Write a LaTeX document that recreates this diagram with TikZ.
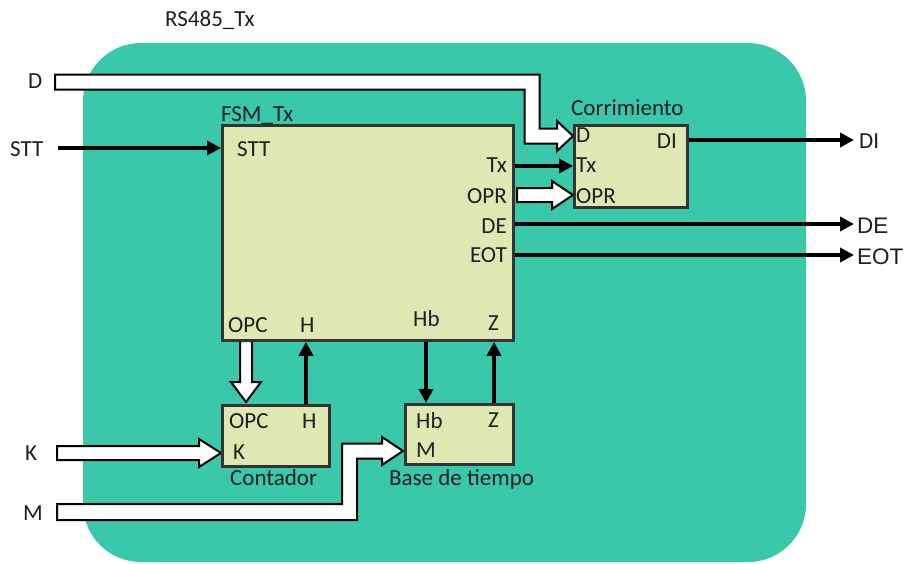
\documentclass[tikz,border=0pt]{standalone}
\usepackage{fontspec}
\setmainfont{Carlito}
\newfontfamily\arialfont{Liberation Sans}
\usetikzlibrary{arrows.meta}
\definecolor{tealbg}{HTML}{3AC8AA}
\definecolor{boxc}{HTML}{DFE8B3}
\definecolor{edgec}{HTML}{333333}
\begin{document}
\begin{tikzpicture}[x=1pt,y=-1pt,
  lbl/.style={inner sep=0pt, anchor=base west, font=\fontsize{23}{27}\selectfont, text=black!88},
  rlbl/.style={lbl, anchor=base east},
  biglbl/.style={lbl, font=\arialfont\fontsize{22.5}{26}\selectfont},
  blockbox/.style={draw=edgec, line width=2.8pt, fill=boxc, anchor=north west, inner sep=0pt},
  sig/.style={line width=3.4pt, -{Triangle[length=14pt,width=14pt]}},
  hollow/.style={fill=white, draw=black, line width=2pt, line join=miter}]
\useasboundingbox (0,0) rectangle (909,563);
% background
\fill[tealbg, rounded corners=58pt] (83,43) rectangle (806,562);

% hollow arrows
\draw[hollow] (55,74.5) -- (539.5,74.5) -- (539.5,128.5) -- (557,128.5) -- (557,121) -- (573,136)
  -- (557,151) -- (557,143.5) -- (524.5,143.5) -- (524.5,89.5) -- (55,89.5) -- cycle;
\draw[hollow] (517,188) -- (552,188) -- (552,181) -- (573,195) -- (552,209) -- (552,202) -- (517,202) -- cycle;
\draw[hollow] (240,341) -- (240,382) -- (231,382) -- (246,402) -- (261,382) -- (252,382) -- (252,341) -- cycle;
\draw[hollow] (57,446) -- (199,446) -- (199,439) -- (221,453) -- (199,467) -- (199,460) -- (57,460) -- cycle;
\draw[hollow] (57,504) -- (342,504) -- (342,443.5) -- (382,443.5) -- (382,437) -- (403,451) -- (382,465)
  -- (382,458.5) -- (357,458.5) -- (357,520) -- (57,520) -- cycle;

% blocks
\node[blockbox, minimum width=291pt, minimum height=215pt] (fsm) at (221,124) {};
\node[blockbox, minimum width=113pt, minimum height=82pt] (cor) at (573,124) {};
\node[blockbox, minimum width=107pt, minimum height=61pt] (cnt) at (221,404) {};
\node[blockbox, minimum width=108pt, minimum height=60pt] (bt) at (404,403) {};

% port coordinates
\coordinate (ystt) at (0,148);
\coordinate (ytx) at (0,166);
\coordinate (ydi) at (0,140);
\coordinate (yde) at (0,224);
\coordinate (yeot) at (0,255);
\coordinate (xh) at (306,0);
\coordinate (xhb) at (426,0);
\coordinate (xz) at (494,0);
\coordinate (sttin) at (58,148);
\coordinate (diout) at (854,140);
\coordinate (deout) at (854,224);
\coordinate (eotout) at (854,255);

% signal arrows
\draw[sig] (sttin) -- (fsm.west |- ystt);
\draw[sig] (fsm.east |- ytx) -- (cor.west |- ytx);
\draw[sig] (cor.east |- ydi) -- (diout);
\draw[sig] (fsm.east |- yde) -- (deout);
\draw[sig] (fsm.east |- yeot) -- (eotout);
\draw[sig] (cnt.north -| xh) -- (fsm.south -| xh);
\draw[sig] (fsm.south -| xhb) -- (bt.north -| xhb);
\draw[sig] (bt.north -| xz) -- (fsm.south -| xz);

% titles
\node[lbl] (title) at (165,26) {RS485\_Tx};
\node[lbl] (tfsm) at (221,121) {FSM\_Tx};
\node[lbl] (tcor) at (571,115) {Corrimiento};
\node[lbl] (tcnt) at (230,485) {Contador};
\node[lbl] (tbt) at (389,485) {Base de tiempo};

% external labels
\node[lbl] (lD) at (28,88) {D};
\node[lbl] (lSTT) at (10,156) {STT};
\node[lbl] (lK) at (25,460) {K};
\node[lbl] (lM) at (23,520) {M};
\node[lbl] (lDI) at (859,148) {DI};
\node[biglbl] (lDE) at (857,233) {DE};
\node[biglbl] (lEOT) at (857,264) {EOT};

% FSM ports
\node[lbl] (fSTT) at (237,156) {STT};
\node[rlbl] (fTx) at (507,172) {Tx};
\node[rlbl] (fOPR) at (507,203) {OPR};
\node[rlbl] (fDE) at (507,233) {DE};
\node[rlbl] (fEOT) at (507,262) {EOT};
\node[lbl] (fOPC) at (228,332) {OPC};
\node[lbl] (fH) at (300,332) {H};
\node[lbl] (fHb) at (413,326) {Hb};
\node[lbl] (fZ) at (488,330) {Z};

% Corrimiento ports
\node[lbl] (cD) at (576,142) {D};
\node[lbl] (cTx) at (576,172) {Tx};
\node[lbl] (cOPR) at (576,203) {OPR};
\node[rlbl] (cDI) at (677,148) {DI};

% Contador ports
\node[lbl] (nOPC) at (229,428) {OPC};
\node[lbl] (nH) at (302,428) {H};
\node[lbl] (nK) at (233,459) {K};

% Base de tiempo ports
\node[lbl] (bHb) at (416,428) {Hb};
\node[lbl] (bZ) at (488,427) {Z};
\node[lbl] (bM) at (416,457) {M};
\end{tikzpicture}
\end{document}
